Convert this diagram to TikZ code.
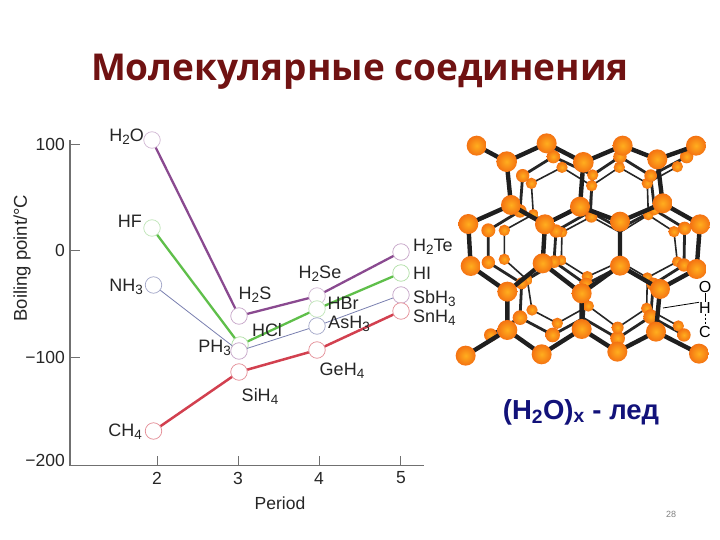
\documentclass[tikz,border=0pt]{standalone}
\usepackage{fontspec}
\setmainfont{Liberation Sans}
\newfontfamily\titlefont{Open Sans}
\definecolor{purp}{HTML}{8A4A90}
\definecolor{grn}{HTML}{5FBF4A}
\definecolor{rd}{HTML}{D2404F}
\definecolor{blu}{HTML}{7A80B0}
\definecolor{axisc}{HTML}{707070}
\definecolor{ballin}{HTML}{FFAE1E}
\definecolor{ballout}{HTML}{F47212}
\definecolor{titlec}{HTML}{701212}
\definecolor{capc}{HTML}{12127A}
\newcommand{\subn}[1]{\raisebox{-0.32ex}{\fontsize{13.5}{14}\selectfont #1}}
\tikzset{
 pt/.style={circle,minimum size=16.5pt,inner sep=0pt,draw=#1,fill=white,line width=0.7pt},
 lab/.style={inner sep=0pt,font=\fontsize{18}{20}\selectfont,text=black!85},
 tk/.style={inner sep=0pt,font=\fontsize{17.5}{20}\selectfont,text=black!85},
 big/.style={line width=4.4pt,black!88},
 mid/.style={line width=2.8pt,black!85},
 thin/.style={line width=1.6pt,black!85},
}
\newcommand{\atom}[3]{\shade[inner color=ballin,outer color=ballout] (#1,#2) circle (#3);}
\begin{document}
\begin{tikzpicture}[x=1pt,y=-1pt]
\useasboundingbox (0,0) rectangle (720,540);
\fill[white] (0,0) rectangle (720,540);
\node (title) at (360,72) [inner sep=0pt,text=titlec,font=\titlefont\bfseries\fontsize{37}{40}\selectfont] {Молекулярные соединения};
% axes
\coordinate (o) at (70,465.5);
\coordinate (ytop) at (70,140);
\coordinate (xend) at (424,465.5);
\draw[axisc,line width=1.2pt] (ytop)--(o)--(xend);
\foreach \y in {144,250.5,357} \draw[axisc,line width=.8pt] (70,\y)--(80,\y);
\foreach \x in {157,238,319,400} \draw[axisc,line width=.8pt] (\x,465)--(\x,456);
\node[tk,anchor=east] at (65,144) {100};
\node[tk,anchor=east] at (65,250) {0};
\node[tk,anchor=east] at (65,357) {−100};
\node[tk,anchor=east] at (65,460) {−200};
\foreach \x/\t in {157/2,238/3,319/4,401/5} \node[tk] at (\x,478) {\t};
\node[inner sep=0pt,font=\fontsize{17.5}{20}\selectfont,text=black!85] (period) at (280,503) {Period};
\node[inner sep=0pt,rotate=90,font=\fontsize{18.5}{20}\selectfont,text=black!85] (ylab) at (22,258) {Boiling point/°C};
% points
\node[pt=purp!40] (h2o) at (152,140) {};
\node[pt=grn!40] (hf) at (152,228) {};
\node[pt=blu!70] (nh3) at (153.5,285) {};
\node[pt=rd!60] (ch4) at (153.5,431) {};
\node[pt=grn!50] (hcl) at (240,345) {};
\node[pt=purp!50] (h2s) at (239,316) {};
\node[pt=rd!60] (sih4) at (239,372) {};
\node[pt=purp!50] (ph3) at (239,351) {};
\node[pt=purp!40] (h2se) at (317,296) {};
\node[pt=grn!40] (hbr) at (317,309) {};
\node[pt=blu!70] (ash3) at (317,326) {};
\node[pt=rd!60] (geh4) at (317,350) {};
\node[pt=purp!50] (h2te) at (401,252) {};
\node[pt=grn!50] (hi) at (401,273) {};
\node[pt=purp!50] (sbh3) at (401,295) {};
\node[pt=rd!60] (snh4) at (401,311) {};
% series
\draw[blu,line width=.8pt] (nh3)--(ph3)--(ash3)--(sbh3);
\draw[purp,line width=2.3pt] (h2o)--(h2s)--(h2se)--(h2te);
\draw[grn,line width=2.3pt] (hf)--(hcl)--(hbr)--(hi);
\draw[rd,line width=2.5pt] (ch4)--(sih4)--(geh4)--(snh4);
% labels
\node[lab,anchor=east] at (144,137) {H\subn{2}O};
\node[lab,anchor=east] at (142,221) {HF};
\node[lab,anchor=east] at (143,287) {NH\subn{3}};
\node[lab,anchor=east] at (142,432) {CH\subn{4}};
\node[lab] at (255,295) {H\subn{2}S};
\node[lab] at (267,330) {HCl};
\node[lab,anchor=east] at (231,348) {PH\subn{3}};
\node[lab] at (260,396) {SiH\subn{4}};
\node[lab] at (320,274) {H\subn{2}Se};
\node[lab] at (343,303) {HBr};
\node[lab] at (349,324) {AsH\subn{3}};
\node[lab] at (342,371) {GeH\subn{4}};
\node[lab,anchor=west] at (413,247) {H\subn{2}Te};
\node[lab,anchor=west] at (413,273) {HI};
\node[lab,anchor=west] at (413,299) {SbH\subn{3}};
\node[lab,anchor=west] at (413,318) {SnH\subn{4}};
% crystal
\begin{scope}[shift={(450,125)},x=0.3333pt,y=-0.3333pt]
% back layer C
\draw[thin] (244,175)--(336,127)--(425,182)--(508,127)--(592,175)--(682,125);
\draw[thin] (244,175)--(250,268) (425,182)--(424,275) (592,175)--(595,270);
\draw[thin] (163,316)--(250,268)--(336,322)--(424,275)--(510,322)--(595,270)--(672,320);
\draw[thin] (163,316)--(163,403) (336,322)--(334,406) (672,320)--(682,410);
\draw[thin] (163,403)--(232,465)--(334,406)--(412,455)--(510,410)--(592,458)--(682,410);
\draw[thin] (232,465)--(246,555) (412,455)--(415,543) (592,458)--(590,550);
\draw[thin] (246,555)--(322,595)--(415,543)--(503,608)--(590,550)--(685,603);
% layer B
\draw[mid] (218,152)--(310,95)--(428,150)--(510,95)--(602,152)--(710,95);
\draw[mid] (218,152)--(210,258) (428,150)--(420,260) (602,152)--(614,255);
\draw[mid] (115,316)--(210,258)--(318,318)--(420,260)--(510,310)--(614,255)--(704,310);
\draw[mid] (115,316)--(115,412) (318,318)--(312,410) (704,310)--(702,420);
\draw[mid] (115,412)--(215,475)--(312,410)--(408,478)--(510,425)--(610,478)--(702,420);
\draw[mid] (215,475)--(210,578) (408,478)--(400,580) (610,478)--(602,575);
\draw[mid] (122,630)--(210,578)--(308,630)--(400,580)--(503,640)--(602,575)--(702,630);
% back atoms
\foreach \x/\y/\r in {336/127/17,508/127/17,244/175/17,425/182/17,592/175/17,682/125/17,250/268/16,424/275/18,595/270/16,163/316/17,336/322/16,672/320/17,163/403/17,334/406/16,682/410/16,232/465/16,412/455/17,592/458/16,246/555/17,415/543/17,590/550/17,322/595/17,685/603/17}
 {\atom{\x}{\y}{\r*0.3333pt}}
\foreach \x/\y/\r in {310/95/20,510/95/20,710/95/20,218/152/20,428/150/17,602/152/19,210/258/20,614/255/16,115/316/21,318/318/20,704/310/20,115/412/20,312/410/19,702/420/20,215/475/18,408/478/20,610/478/20,210/578/22,602/575/22,122/630/20,308/630/22,503/640/22,702/630/20,503/608/18}
 {\atom{\x}{\y}{\r*0.3333pt}}
% front layer
\draw[big] (80,62)--(170,110)--(290,55)--(400,112)--(518,62)--(622,103)--(738,62);
\draw[big] (170,110)--(183,240) (400,112)--(390,245) (622,103)--(638,235);
\draw[big] (55,297)--(183,240)--(285,298)--(390,245)--(510,290)--(638,235)--(750,298);
\draw[big] (55,297)--(62,423) (285,298)--(278,415) (510,290)--(510,422) (750,298)--(740,432);
\draw[big] (62,423)--(172,500)--(278,415)--(395,505)--(510,422)--(630,492)--(740,432);
\draw[big] (172,500)--(172,615) (395,505)--(395,612) (630,492)--(618,620);
\draw[big] (47,692)--(172,615)--(275,688)--(395,612)--(502,680)--(618,620)--(747,686);
\foreach \x/\y/\r in {80/62/30,170/110/31,290/55/30,400/112/31,518/62/30,622/103/30,738/62/30,183/240/30,390/245/30,638/235/30,55/297/30,285/298/30,510/290/30,750/298/30,62/423/30,278/415/30,510/422/30,740/432/30,172/500/30,395/505/30,630/492/30,172/615/30,395/612/30,618/620/30,47/692/30,275/688/30,502/680/30,747/686/30}
 {\atom{\x}{\y}{\r*0.3333pt}}
\end{scope}
% O-H-C
\node[inner sep=0pt,font=\fontsize{16}{17}\selectfont] (oo) at (705,287) {O};
\node[inner sep=0pt,font=\fontsize{16}{17}\selectfont] (hh) at (705,308) {H};
\node[inner sep=0pt,font=\fontsize{16}{17}\selectfont] (cc) at (705,332) {C};
\coordinate (bond) at (663,308);
\draw[line width=.8pt] (hh.north west)--(bond);
\draw[line width=.8pt] (oo)--(hh);
\draw[line width=.8pt,dash pattern=on 2pt off 2pt] (hh)--(cc);
% caption
\node[inner sep=0pt,text=capc,font=\bfseries\fontsize{27.5}{29}\selectfont] (cap) at (581,412) {(H\textsubscript{2}O)\textsubscript{x} - лед};
\node[inner sep=0pt,text=black!50,font=\fontsize{9}{10}\selectfont] (pg) at (671,514) {28};
\end{tikzpicture}
\end{document}
